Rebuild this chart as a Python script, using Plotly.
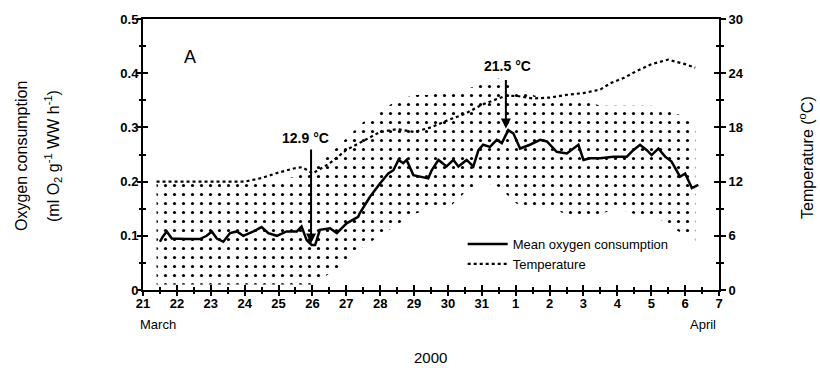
import plotly.graph_objects as go

# ---- data (x in days after 21 March 2000, 00:00) ----
tick_days = list(range(0, 18))
tick_text = ["21", "22", "23", "24", "25", "26", "27", "28", "29", "30", "31",
             "1", "2", "3", "4", "5", "6", "7"]
o2_ticks = [0, 0.1, 0.2, 0.3, 0.4, 0.5]
o2_tick_text = ["0", "0.1", "0.2", "0.3", "0.4", "0.5"]
temp_ticks = [0, 6, 12, 18, 24, 30]
temp_tick_text = ["0", "6", "12", "18", "24", "30"]

mean_days = [0.50, 0.58, 0.70, 0.85, 1.29, 1.68, 1.88, 2.03, 2.18, 2.37, 2.57, 2.77,
             2.96, 3.26, 3.50, 3.70, 3.95, 4.24, 4.54, 4.68, 4.83, 4.98, 5.08, 5.22,
             5.52, 5.72, 6.01, 6.35, 6.40, 6.70, 7.00, 7.24, 7.39, 7.54, 7.68, 7.78,
             7.98, 8.18, 8.42, 8.52, 8.72, 8.96, 9.16, 9.31, 9.55, 9.75, 9.90, 10.04,
             10.24, 10.44, 10.59, 10.78, 10.93, 11.13, 11.42, 11.72, 11.92, 12.21,
             12.51, 12.85, 13.00, 13.19, 13.49, 13.88, 14.28, 14.47, 14.67, 14.87,
             15.01, 15.21, 15.41, 15.60, 15.85, 16.00, 16.20, 16.39]
mean_o2 = [0.089, 0.098, 0.108, 0.095, 0.094, 0.094, 0.100, 0.108, 0.095, 0.089, 0.105,
           0.108, 0.100, 0.108, 0.116, 0.105, 0.100, 0.108, 0.108, 0.117, 0.092, 0.083,
           0.083, 0.111, 0.114, 0.105, 0.123, 0.135, 0.142, 0.172, 0.197, 0.215, 0.221,
           0.240, 0.234, 0.240, 0.212, 0.209, 0.206, 0.221, 0.240, 0.228, 0.240, 0.228,
           0.240, 0.228, 0.258, 0.268, 0.264, 0.277, 0.271, 0.295, 0.289, 0.261, 0.268,
           0.277, 0.274, 0.255, 0.252, 0.268, 0.240, 0.243, 0.243, 0.246, 0.246, 0.258,
           0.268, 0.258, 0.249, 0.261, 0.246, 0.237, 0.209, 0.215, 0.188, 0.194]

temp_days = [0.4, 1.0, 2.0, 3.0, 3.5, 4.0, 4.5, 4.7, 5.0, 5.5, 6.0, 6.5, 7.0, 7.5, 8.0,
             8.5, 9.0, 9.5, 10.0, 10.7, 11.0, 11.5, 12.0, 12.5, 13.0, 13.5, 13.8, 14.2,
             14.6, 15.0, 15.5, 16.0, 16.3]
temp_c = [12.0, 12.0, 12.0, 12.0, 12.4, 13.0, 13.5, 13.6, 12.9, 14.0, 15.5, 16.5, 17.5,
          17.8, 17.5, 18.0, 18.8, 19.5, 20.5, 21.5, 21.5, 21.2, 21.3, 21.6, 21.8, 22.2,
          22.9, 23.5, 24.3, 25.0, 25.5, 25.0, 24.6]

band_days = [0.4, 1.0, 2.0, 3.0, 4.0, 4.5, 5.0, 5.5, 6.0, 6.5, 7.0, 7.5, 8.0, 8.5, 9.0,
             9.5, 10.0, 10.5, 11.0, 11.5, 12.0, 12.5, 13.0, 13.5, 14.0, 14.5, 15.0,
             15.5, 16.0, 16.3]
band_upper = [0.20, 0.20, 0.20, 0.20, 0.20, 0.21, 0.22, 0.25, 0.28, 0.31, 0.33, 0.35,
              0.36, 0.36, 0.37, 0.37, 0.38, 0.39, 0.37, 0.36, 0.35, 0.35, 0.35, 0.34,
              0.34, 0.34, 0.34, 0.33, 0.32, 0.30]
band_lower = [0.01, 0.01, 0.01, 0.01, 0.01, 0.01, 0.01, 0.03, 0.05, 0.08, 0.10, 0.12,
              0.14, 0.15, 0.15, 0.18, 0.20, 0.19, 0.16, 0.15, 0.15, 0.14, 0.14, 0.14,
              0.15, 0.14, 0.14, 0.12, 0.10, 0.09]

FONT = "Liberation Sans, Arial, sans-serif"

fig = go.Figure()

# scatter cloud of individual readings as a dotted band
fig.add_trace(go.Scatter(x=band_days, y=band_lower, mode="lines",
                         line=dict(width=0, color="rgba(0,0,0,0)"),
                         showlegend=False, hoverinfo="skip"))
fig.add_trace(go.Scatter(x=band_days, y=band_upper, mode="lines",
                         line=dict(width=0, color="rgba(0,0,0,0)"),
                         fill="tonexty", fillcolor="rgba(0,0,0,0)",
                         fillpattern=dict(shape=".", fgcolor="black", bgcolor="white",
                                          fgopacity=1, size=9, solidity=0.1),
                         showlegend=False, hoverinfo="skip"))

fig.add_trace(go.Scatter(x=mean_days, y=mean_o2, mode="lines",
                         line=dict(color="black", width=2.5),
                         name="Mean oxygen consumption"))
fig.add_trace(go.Scatter(x=temp_days, y=temp_c, mode="lines", yaxis="y2",
                         line=dict(color="black", width=2.2, dash="dot"),
                         name="Temperature"))

# invisible carriers for the overlay axes that draw the other half of the ticks
fig.add_trace(go.Scatter(x=[None], y=[None], xaxis="x2", yaxis="y3",
                         showlegend=False, hoverinfo="skip"))
fig.add_trace(go.Scatter(x=[None], y=[None], xaxis="x", yaxis="y4",
                         showlegend=False, hoverinfo="skip"))

tickfont = dict(family=FONT, size=13, color="black")
tk = dict(ticklen=5, tickwidth=2, tickcolor="black")
mtk = dict(ticklen=3, tickwidth=1.5, tickcolor="black")


def bold(lst):
    return ["<b>" + s + "</b>" for s in lst]


fig.update_layout(
    width=820, height=376,
    margin=dict(l=143, r=101, t=17, b=86),
    paper_bgcolor="white", plot_bgcolor="white",
    showlegend=True,
    legend=dict(x=0.555, y=0.225, xanchor="left", yanchor="top", traceorder="normal",
                bgcolor="rgba(0,0,0,0)", font=dict(family=FONT, size=13, color="black"),
                tracegroupgap=0, itemwidth=40),
    xaxis=dict(range=[0, 17], tickvals=tick_days, ticktext=bold(tick_text),
               showgrid=False, zeroline=False,
               showline=True, linecolor="black", linewidth=2, mirror=True,
               ticks="inside", **tk,
               minor=dict(ticks="inside", dtick=0.5, tick0=0, **mtk),
               tickfont=tickfont),
    xaxis2=dict(range=[0, 17], overlaying="x", side="bottom", tickvals=tick_days,
                showticklabels=False, showgrid=False, zeroline=False, showline=False,
                ticks="outside", **tk,
                minor=dict(ticks="outside", dtick=0.5, tick0=0, **mtk)),
    yaxis=dict(range=[0, 0.5], tickvals=o2_ticks, ticktext=bold(o2_tick_text),
               showgrid=False, zeroline=False,
               showline=True, linecolor="black", linewidth=2,
               ticks="inside", **tk,
               minor=dict(ticks="inside", dtick=0.05, tick0=0, **mtk),
               tickfont=tickfont),
    yaxis3=dict(range=[0, 0.5], overlaying="y", side="left", tickvals=o2_ticks,
                showticklabels=False, showgrid=False, zeroline=False, showline=False,
                ticks="outside", **tk,
                minor=dict(ticks="outside", dtick=0.05, tick0=0, **mtk)),
    yaxis2=dict(range=[0, 30], overlaying="y", side="right",
                tickvals=temp_ticks, ticktext=bold(temp_tick_text),
                showgrid=False, zeroline=False,
                showline=True, linecolor="black", linewidth=2,
                ticks="outside", **tk,
                minor=dict(ticks="outside", dtick=3, tick0=0, **mtk),
                tickfont=tickfont),
    yaxis4=dict(range=[0, 30], overlaying="y", side="right", tickvals=temp_ticks,
                showticklabels=False, showgrid=False, zeroline=False, showline=False,
                ticks="inside", **tk,
                minor=dict(ticks="inside", dtick=3, tick0=0, **mtk)),
)

ann = [
    dict(text="A", x=1.4, y=0.43, xref="x", yref="y", showarrow=False,
         font=dict(family=FONT, size=18, color="black")),
    dict(text="<b>12.9 °C</b>", x=4.8, y=0.28, xref="x", yref="y", showarrow=False,
         font=dict(family=FONT, size=14, color="black")),
    dict(text="", x=4.96, y=0.086, ax=4.96, ay=0.262, xref="x", yref="y",
         axref="x", ayref="y", showarrow=True, arrowhead=2, arrowsize=1,
         arrowwidth=2, arrowcolor="black"),
    dict(text="<b>21.5 °C</b>", x=10.75, y=0.414, xref="x", yref="y", showarrow=False,
         font=dict(family=FONT, size=14, color="black")),
    dict(text="", x=10.71, y=0.298, ax=10.71, ay=0.39, xref="x", yref="y",
         axref="x", ayref="y", showarrow=True, arrowhead=2, arrowsize=1,
         arrowwidth=2, arrowcolor="black"),
    # pixel-positioned texts (x, y in page pixels)
    dict(text="March", px=158, py=325, size=13),
    dict(text="April", px=703, py=325, size=13),
    dict(text="2000", px=430, py=358, size=15),
    dict(text="Oxygen consumption", px=22, py=155, size=16, angle=-90),
    dict(text="(ml O<sub>2</sub> g<sup>-1</sup> WW h<sup>-1</sup>)", px=53, py=155,
         size=16, angle=-90),
    dict(text="Temperature (<sup>o</sup>C)", px=806, py=157, size=16, angle=-90),
]

plot_l, plot_r, plot_t, plot_b = 143, 719, 17, 290
out = []
for a in ann:
    if "px" in a:
        out.append(dict(text=a["text"], xref="paper", yref="paper",
                        x=(a["px"] - plot_l) / (plot_r - plot_l),
                        y=(plot_b - a["py"]) / (plot_b - plot_t),
                        xanchor="center", yanchor="middle", showarrow=False,
                        textangle=a.get("angle", 0),
                        font=dict(family=FONT, size=a["size"], color="black")))
    else:
        out.append(a)
fig.update_layout(annotations=out)

fig.write_html("out.html")
